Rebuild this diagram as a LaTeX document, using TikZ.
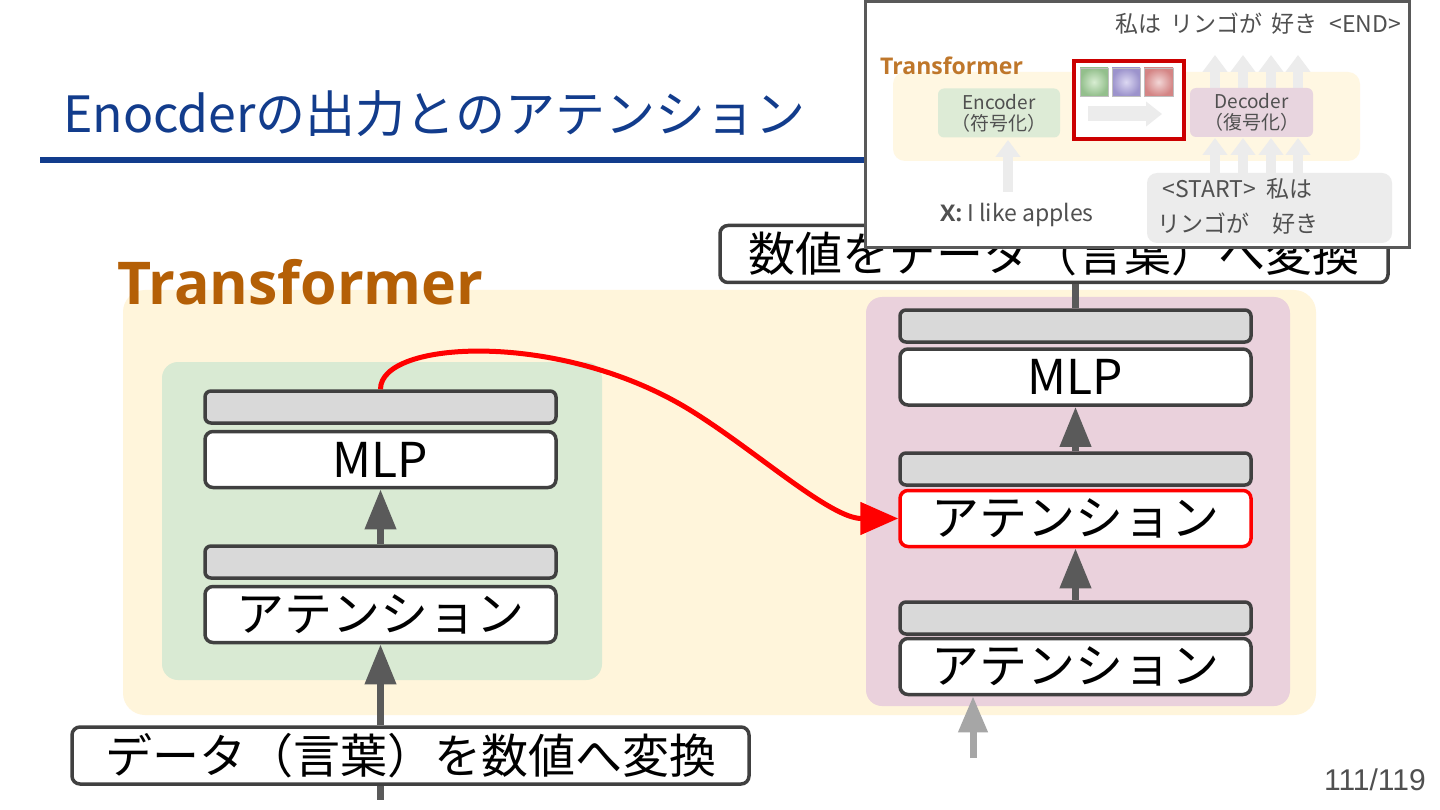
\documentclass[tikz,border=0pt]{standalone}
\usepackage{fontspec}
\setmainfont{Noto Sans}
\newfontfamily\jp{Noto Sans CJK JP}
\newfontfamily\lat{Liberation Sans}
\newfontfamily\osans{Open Sans}
\usetikzlibrary{arrows.meta}
\definecolor{titleblue}{HTML}{123C8C}
\definecolor{tyellow}{HTML}{FFF5DB}
\definecolor{egreen}{HTML}{D9EAD3}
\definecolor{dpink}{HTML}{EAD1DC}
\definecolor{tbrown}{HTML}{B45F06}
\definecolor{edge}{HTML}{404040}
\definecolor{bargray}{HTML}{D9D9D9}
\definecolor{arrgray}{HTML}{5A5A5A}
\definecolor{ltarr}{HTML}{A6A6A6}
\definecolor{inyellow}{HTML}{FFF7E2}
\definecolor{ingreen}{HTML}{DDEBD6}
\definecolor{inpink}{HTML}{E8D5DF}
\definecolor{inarr}{HTML}{ECECEC}
\definecolor{intext}{HTML}{505050}
\definecolor{inred}{HTML}{CC0000}
\definecolor{sqgi}{HTML}{D8EDD2}
\definecolor{sqgo}{HTML}{93BF8C}
\definecolor{sqpi}{HTML}{DCD8F2}
\definecolor{sqpo}{HTML}{9C93CC}
\definecolor{sqri}{HTML}{F2D6D6}
\definecolor{sqro}{HTML}{D48585}
\tikzset{
  graybar/.style={draw=edge, line width=3.5, fill=bargray, rounded corners=6,
    minimum width=351, minimum height=32, inner sep=0},
  layerbox/.style={draw=edge, line width=3.5, fill=white, rounded corners=8,
    minimum width=351, minimum height=56, inner sep=0,
    font=\jp\fontsize{48}{50}\selectfont},
  convbox/.style={draw=edge, line width=3.5, fill=white, rounded corners=8,
    minimum height=57, inner sep=0, font=\jp\fontsize{47}{50}\selectfont},
  uparr/.style={draw=arrgray, line width=7, -{Triangle[length=40,width=30]}},
  redarr/.style={draw=red, line width=5, -{Triangle[length=38,width=32]}},
  inbox/.style={rounded corners=6, inner sep=0, align=center,
    text=intext, font=\jp\fontsize{19}{21}\selectfont},
  inarrow/.style={draw=inarr, line width=10, -{Triangle[length=17,width=24]}},
  intxt/.style={inner sep=0, text=intext, font=\jp\fontsize{23}{35}\selectfont},
}
\begin{document}
\begin{tikzpicture}[x=1pt,y=-1pt]
\useasboundingbox (0,0) rectangle (1440,810);
\fill[white] (0,0) rectangle (1440,810);

% title
\node[anchor=base west, inner sep=0, text=titleblue,
  font=\jp\fontsize{50}{60}\selectfont] (title) at (63,133) {Enocderの出力とのアテンション};
\draw[titleblue, line width=6] (40,160) -- (870,160);

% panels
\fill[tyellow, rounded corners=22] (123,290) rectangle (1316,715);
\node[anchor=base west, inner sep=0, text=tbrown,
  font=\osans\bfseries\fontsize{59}{62}\selectfont] (tlabel) at (117,305) {Transformer};
\fill[egreen, rounded corners=16] (162,362) rectangle (602,680);
\fill[dpink, rounded corners=16] (866,297) rectangle (1290,706);

% encoder
\node[graybar] (eg1) at (380.5,407) {};
\node[layerbox] (emlp) at (380.5,459.5) {MLP};
\node[graybar] (eg2) at (380.5,562) {};
\node[layerbox] (eatt) at (380.5,614.5) {アテンション};

% input box
\node[convbox, minimum width=677] (inp) at (410.5,755.5) {データ（言葉）を数値へ変換};
\coordinate (inbot) at (380.5,800);
\draw[arrgray, line width=7] (inbot |- inp.south) -- (inbot);
\draw[uparr] (eatt.south |- inp.north) -- (eatt.south);
\draw[uparr] (eg2.north) -- (emlp.south);

% decoder
\node[graybar] (dg1) at (1075.5,326) {};
\node[layerbox] (dmlp) at (1075.5,377) {MLP};
\node[graybar] (dg2) at (1075.5,469) {};
\node[layerbox, draw=red] (da1) at (1075.5,518.5) {アテンション};
\node[graybar] (dg3) at (1075.5,618) {};
\node[layerbox] (da2) at (1075.5,666.5) {アテンション};
\draw[uparr] (dg2.north) -- (dmlp.south);
\draw[uparr] (dg3.north) -- (da1.south);
\coordinate (dinbot) at (973,758);
\draw[draw=ltarr, line width=7, -{Triangle[length=36,width=28]}] (dinbot) -- (dinbot |- da2.south);

% output box
\node[convbox, minimum width=668] (outp) at (1054,254) {数値をデータ（言葉）へ変換};
\draw[arrgray, line width=7] (dg1.north) -- (dg1.north |- outp.south);

% red curve
\draw[redarr] (eg1.north) .. controls (380,340) and (560,330) .. (690,410)
  .. controls (755,450) and (830,518.5) .. (da1.west);

% page number
\node[anchor=base east, inner sep=0, text=intext, font=\lat\fontsize{30}{32}\selectfont] (pnum) at (1426,790) {111/119};

% ---------- inset ----------
\fill[white] (865,2) rectangle (1409,248);
\fill[inyellow, rounded corners=12] (893,72) rectangle (1360,161);
\node[anchor=base west, inner sep=0, text=tbrown!85,
  font=\osans\bfseries\fontsize{23}{25}\selectfont] (itl) at (880,75) {Transformer};
% light arrows
\foreach \x in {1215,1243,1271,1298}{
  \draw[inarrow] (\x,175) -- (\x,138);
  \draw[inarrow] (\x,88) -- (\x,55);
}
\draw[inarrow] (1008,192) -- (1008,140);
\node[inbox, fill=ingreen, minimum width=122, minimum height=49] (ienc) at (999,113) {Encoder\\（符号化）};
\node[inbox, fill=inpink, minimum width=123, minimum height=49] (idec) at (1251.5,112.5) {Decoder\\（復号化）};
% red box
\node[draw=inred, line width=4, fill=white, minimum width=110, minimum height=78, inner sep=0] (ired) at (1129,100) {};
\shade[inner color=sqgi, outer color=sqgo, draw=gray!50] (1080,68) rectangle (1108,96);
\shade[inner color=sqpi, outer color=sqpo, draw=gray!50] (1112,68) rectangle (1140,96);
\shade[inner color=sqri, outer color=sqro, draw=gray!50] (1144,68) rectangle (1173,96);
\coordinate (ia1) at (1088,114);
\coordinate (ia2) at (1162,114);
\draw[draw=inarr, line width=15, -{Triangle[length=16,width=24]}] (ia1) -- (ia2);
% texts
\node[anchor=base east, intxt] (iout) at (1401,33) {私は\hspace{9pt}リンゴが\hspace{9pt}好き\hspace{12pt}<END>};
\node[anchor=base west, intxt] (ix) at (940,222) {{\osans\bfseries X:} I like apples};
\node[fill=inarr, rounded corners=10, minimum width=245, minimum height=70, inner sep=0] (igray) at (1269.5,208) {};
\node[anchor=north west, intxt, align=left] (is1) at (1157,178) {\ <START>\ \ 私は\\リンゴが\quad 好き};
\draw[draw=gray!70!black, line width=3] (865,2) rectangle (1409,248);
\end{tikzpicture}
\end{document}
